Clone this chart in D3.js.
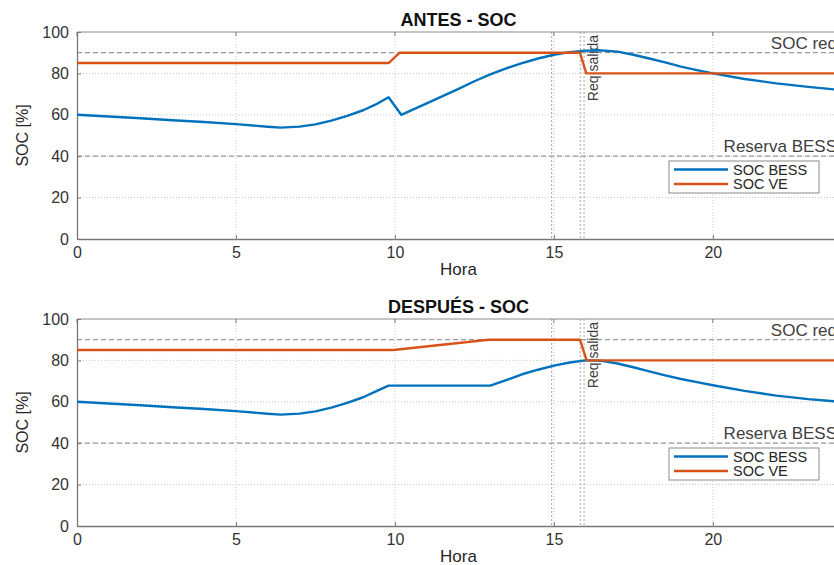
<!DOCTYPE html>
<html><head><meta charset="utf-8">
<script src="https://cdn.jsdelivr.net/npm/d3@7"></script>
<style>
body{margin:0;background:#fff;}
text{font-family:"Liberation Sans",Arial,sans-serif;}
</style></head>
<body><svg id="c" width="834" height="565"></svg>
<script>
// ---- data ----
const xTicks = [0, 5, 10, 15, 20];
const yTicks = [0, 20, 40, 60, 80, 100];
const titles = ["ANTES - SOC", "DESPUÉS - SOC"];
const seriesNames = ["SOC BESS", "SOC VE"];

const hAntesBess = [0,1,2,3,4,5,6,6.4,7,7.5,8,8.5,9,9.4,9.8,10.2,11,11.5,12,12.5,13,13.5,14,14.5,15,15.5,16,16.4,17,17.5,18,18.5,19,19.5,20,21,22,23,24];
const vAntesBess = [60,59.2,58.3,57.4,56.5,55.5,54.2,53.8,54.3,55.4,57.2,59.5,62.2,65,68.5,60,65.5,69,72.5,76.2,79.5,82.4,85,87.2,89,90.3,91,91.2,90.5,89,87.2,85.3,83.3,81.6,80,77.3,75.2,73.5,72];
const hAntesVE = [0,9.8,10.15,15.82,16.02,24];
const vAntesVE = [85,85,90,90,80,80];

const hDespBess = [0,1,2,3,4,5,6,6.4,7,7.5,8,8.5,9,9.4,9.8,13.0,13.5,14,14.5,15,15.5,16,16.5,17,17.5,18,18.5,19,19.5,20,21,22,23,24];
const vDespBess = [60,59.2,58.3,57.4,56.5,55.5,54.2,53.8,54.3,55.4,57.2,59.5,62.2,65,67.8,67.8,70.5,73.3,75.5,77.5,79,80,79.8,78.5,76.7,74.7,72.8,71,69.5,68,65.3,63,61.3,60];
const hDespVE = [0,9.95,12.95,15.82,16.03,24];
const vDespVE = [85,85,90,90,80,80];

const socReq = 90, reservaBess = 40;
const hLines = [{v: socReq, label: "SOC req"}, {v: reservaBess, label: "Reserva BESS"}];
const vLines = [14.93, 15.83, 15.95];
const vLineLabel = "Req salida";

// ---- layout ----
const svg = d3.select("#c");
const colors = ["#0072BD", "#D95319"];
const x = d3.scaleLinear().domain([0, 24]).range([77, 840]);
const panels = [
  {top: 32, bottom: 239, title: titles[0], series: [[hAntesBess, vAntesBess], [hAntesVE, vAntesVE]]},
  {top: 319, bottom: 526, title: titles[1], series: [[hDespBess, vDespBess], [hDespVE, vDespVE]]}
];

panels.forEach((p, pi) => {
  const y = d3.scaleLinear().domain([0, 100]).range([p.bottom, p.top]);
  const g = svg.append("g");
  const clipId = "clip" + pi;
  svg.append("clipPath").attr("id", clipId).append("rect")
    .attr("x", x(0)).attr("y", p.top).attr("width", x(24) - x(0)).attr("height", p.bottom - p.top);

  // grid
  g.append("g").selectAll("line").data(xTicks.slice(1)).join("line")
    .attr("x1", d => x(d)).attr("x2", d => x(d)).attr("y1", p.top).attr("y2", p.bottom)
    .attr("stroke", "#c8c8c8").attr("stroke-width", 1).attr("stroke-dasharray", "1,2");
  g.append("g").selectAll("line").data(yTicks.slice(1, -1)).join("line")
    .attr("x1", x(0)).attr("x2", x(24)).attr("y1", d => y(d)).attr("y2", d => y(d))
    .attr("stroke", "#c8c8c8").attr("stroke-width", 1).attr("stroke-dasharray", "1,2");

  // reference horizontal lines
  hLines.forEach(hl => {
    g.append("line").attr("x1", x(0)).attr("x2", x(24)).attr("y1", y(hl.v)).attr("y2", y(hl.v))
      .attr("stroke", "#9a9a9a").attr("stroke-width", 1.2).attr("stroke-dasharray", "5,3");
    g.append("text").attr("x", x(24) - 3).attr("y", y(hl.v) - 4).attr("text-anchor", "end")
      .attr("font-size", 17).attr("fill", "#404040").text(hl.label);
  });

  // vertical reference lines
  vLines.forEach(v => {
    g.append("line").attr("x1", x(v)).attr("x2", x(v)).attr("y1", p.top).attr("y2", p.bottom)
      .attr("stroke", "#a8a8a8").attr("stroke-width", 1).attr("stroke-dasharray", "2,2");
  });
  g.append("text")
    .attr("transform", `translate(${x(vLines[vLines.length - 1]) + 9},${p.top + 3}) rotate(-90)`)
    .attr("text-anchor", "end").attr("dominant-baseline", "central")
    .attr("font-size", 14).attr("fill", "#404040").text(vLineLabel);

  // axes frame
  g.append("line").attr("x1", x(0)).attr("x2", x(24)).attr("y1", p.top).attr("y2", p.top).attr("stroke", "#8a8a8a");
  const xa = g.append("g").attr("transform", `translate(0,${p.bottom})`)
    .call(d3.axisBottom(x).tickValues(xTicks).tickSizeInner(-4).tickSizeOuter(0).tickPadding(8).tickFormat(d3.format("d")));
  const ya = g.append("g").attr("transform", `translate(${x(0)},0)`)
    .call(d3.axisLeft(y).tickValues(yTicks).tickSizeInner(-4).tickSizeOuter(0).tickPadding(8).tickFormat(d3.format("d")));
  [xa, ya].forEach(a => {
    a.select(".domain").attr("stroke", "#777").attr("stroke-width", 1.3);
    a.selectAll(".tick line").attr("stroke", "#777");
    a.selectAll("text").attr("font-size", 16).attr("fill", "#333").style("font-family", "Liberation Sans, Arial, sans-serif");
  });
  // top ticks
  g.append("g").selectAll("line").data(xTicks).join("line")
    .attr("x1", d => x(d)).attr("x2", d => x(d)).attr("y1", p.top).attr("y2", p.top + 4).attr("stroke", "#777");

  // series
  const line = d3.line().x(d => x(d[0])).y(d => y(d[1]));
  p.series.forEach((s, si) => {
    const pts = s[0].map((h, i) => [h, s[1][i]]);
    g.append("path").datum(pts).attr("d", line).attr("clip-path", `url(#${clipId})`)
      .attr("fill", "none").attr("stroke", colors[si]).attr("stroke-width", 2.4)
      .attr("stroke-linejoin", "round");
  });

  // titles / labels
  g.append("text").attr("x", (x(0) + x(24)) / 2).attr("y", p.top - 6).attr("text-anchor", "middle")
    .attr("font-size", 18).attr("font-weight", "bold").attr("fill", "#111").text(p.title);
  g.append("text").attr("x", (x(0) + x(24)) / 2).attr("y", p.bottom + 36).attr("text-anchor", "middle")
    .attr("font-size", 17).attr("fill", "#262626").text("Hora");
  g.append("text").attr("transform", `translate(22,${(p.top + p.bottom) / 2}) rotate(-90)`)
    .attr("text-anchor", "middle").attr("dominant-baseline", "central")
    .attr("font-size", 16).attr("fill", "#262626").text("SOC [%]");

  // legend
  const lg = g.append("g").attr("transform", `translate(669,${p.bottom - 78})`);
  lg.append("rect").attr("width", 150).attr("height", 32).attr("fill", "#fff").attr("stroke", "#8a8a8a");
  seriesNames.forEach((n, i) => {
    const yy = 8.5 + i * 14.5;
    lg.append("line").attr("x1", 5).attr("x2", 59).attr("y1", yy).attr("y2", yy)
      .attr("stroke", colors[i]).attr("stroke-width", 2.4);
    lg.append("text").attr("x", 64).attr("y", yy).attr("dominant-baseline", "central")
      .attr("font-size", 14.5).attr("fill", "#262626").text(n);
  });
});
</script></body></html>
